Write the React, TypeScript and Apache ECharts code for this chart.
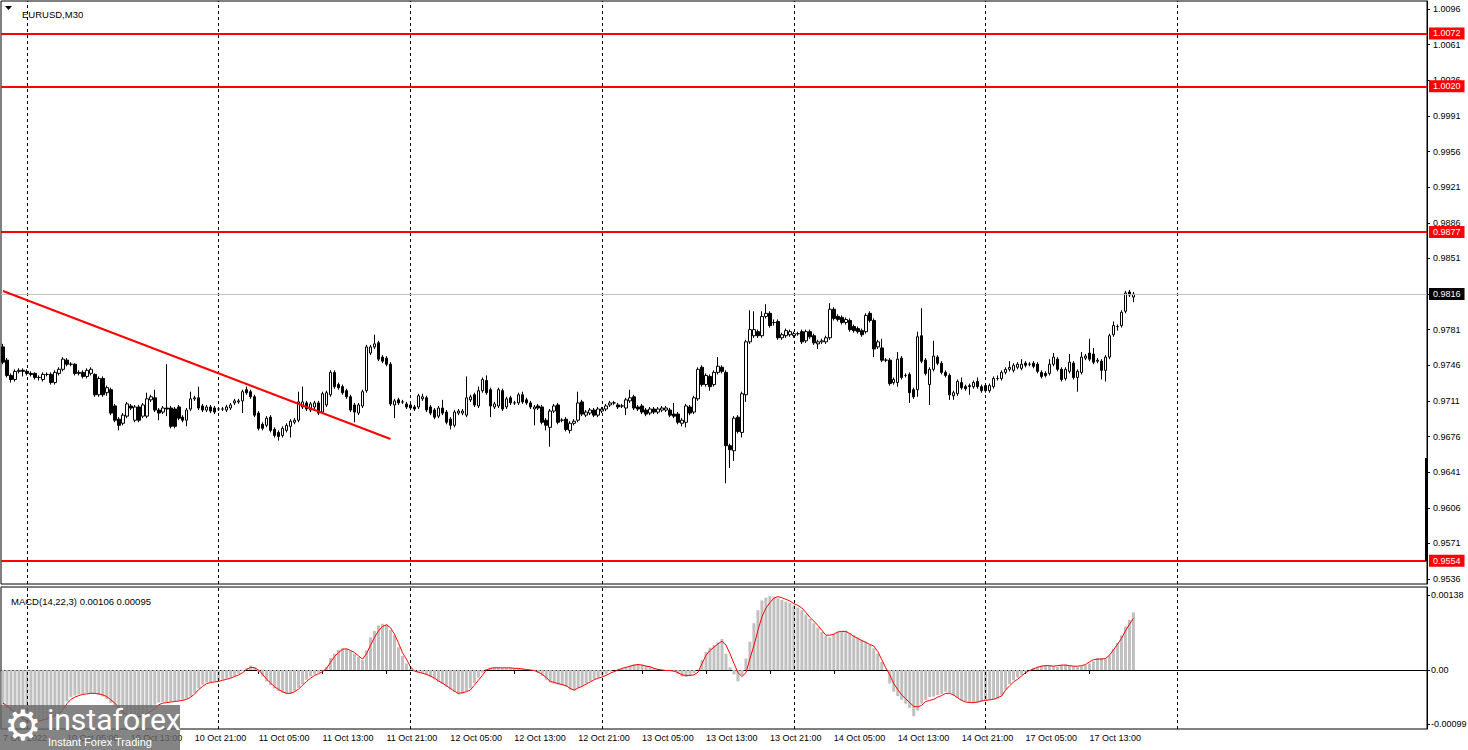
import React, { useEffect, useRef } from "react";
import * as echarts from "echarts";

const SYMBOL_TITLE = "EURUSD,M30";
const MACD_TITLE = "MACD(14,22,3) 0.00106 0.00095";
const START_UTC = Date.UTC(2022, 9, 7, 21, 0);
const SLOT_COUNT = 357;

// [open, close, low, high] in units of 0.0001
const CANDLES: number[][] = [
  [9764,9749,9747,9767],[9751,9736,9734,9753],[9736,9732,9729,9738],[9732,9740,9730,9742],[9740,9741,9738,9743],[9741,9740,9735,9743],[9740,9738,9736,9742],[9738,9737,9735,9740],[9738,9734,9732,9739],[9734,9734,9731,9736],
  [9732,9737,9730,9739],[9737,9737,9735,9739],[9737,9729,9727,9739],[9729,9739,9727,9741],[9738,9742,9736,9744],[9742,9752,9740,9754],[9751,9747,9745,9753],[9747,9747,9745,9749],[9747,9738,9736,9748],[9738,9739,9736,9741],
  [9739,9735,9733,9741],[9735,9741,9733,9743],[9738,9742,9736,9744],[9737,9717,9715,9738],[9717,9733,9715,9735],[9733,9717,9715,9735],[9719,9724,9716,9726],[9722,9699,9697,9724],[9706,9692,9690,9708],[9693,9687,9682,9695],
  [9689,9697,9687,9699],[9696,9708,9694,9710],[9706,9704,9702,9708],[9692,9705,9690,9707],[9705,9692,9690,9707],[9696,9707,9694,9709],[9696,9713,9694,9719],[9712,9715,9710,9717],[9714,9702,9700,9722],[9702,9699,9692,9704],
  [9700,9704,9698,9706],[9704,9703,9696,9747],[9704,9686,9684,9706],[9703,9686,9684,9705],[9705,9694,9692,9707],[9695,9692,9690,9697],[9692,9702,9686,9704],[9703,9713,9701,9720],[9713,9714,9711,9716],[9714,9704,9702,9725],
  [9706,9702,9700,9708],[9702,9705,9700,9707],[9705,9701,9699,9707],[9704,9700,9698,9706],[9703,9703,9701,9705],[9703,9703,9701,9705],[9702,9705,9700,9707],[9704,9707,9702,9709],[9709,9711,9707,9713],[9710,9711,9708,9713],
  [9711,9720,9699,9722],[9722,9719,9717,9725],[9720,9715,9713,9722],[9715,9697,9695,9717],[9699,9684,9682,9701],[9688,9684,9682,9690],[9687,9694,9685,9696],[9695,9682,9680,9697],[9683,9677,9675,9685],[9680,9676,9672,9682],
  [9677,9684,9675,9686],[9682,9687,9680,9689],[9686,9691,9675,9693],[9690,9692,9688,9694],[9692,9710,9690,9720],[9705,9710,9703,9725],[9709,9703,9701,9711],[9702,9708,9700,9710],[9705,9709,9703,9711],[9709,9699,9697,9711],
  [9700,9718,9698,9720],[9707,9719,9705,9721],[9717,9739,9715,9741],[9739,9725,9723,9741],[9727,9724,9722,9729],[9725,9719,9717,9727],[9721,9715,9713,9723],[9715,9702,9700,9717],[9707,9700,9690,9709],[9699,9707,9697,9709],
  [9706,9720,9704,9722],[9721,9764,9719,9766],[9758,9764,9756,9766],[9764,9767,9762,9776],[9768,9752,9750,9770],[9754,9750,9748,9756],[9753,9747,9745,9755],[9747,9708,9706,9749],[9707,9711,9694,9713],[9712,9709,9707,9714],
  [9710,9710,9708,9712],[9708,9705,9703,9710],[9707,9704,9702,9709],[9705,9703,9701,9707],[9705,9716,9703,9718],[9713,9715,9711,9718],[9714,9702,9700,9716],[9705,9699,9697,9707],[9702,9695,9693,9704],[9696,9704,9694,9706],
  [9704,9699,9697,9712],[9700,9690,9688,9702],[9693,9687,9683,9695],[9687,9700,9685,9702],[9699,9701,9697,9703],[9699,9701,9697,9703],[9697,9714,9695,9735],[9712,9715,9710,9717],[9717,9707,9705,9719],[9706,9721,9704,9725],
  [9721,9732,9719,9734],[9731,9719,9717,9736],[9722,9706,9695,9724],[9705,9708,9703,9710],[9706,9722,9704,9724],[9721,9703,9701,9723],[9705,9713,9703,9715],[9714,9709,9707,9716],[9709,9709,9707,9711],[9709,9717,9707,9719],
  [9717,9710,9708,9720],[9712,9709,9707,9714],[9709,9705,9703,9711],[9703,9705,9687,9707],[9706,9704,9702,9708],[9705,9690,9688,9707],[9692,9687,9682,9694],[9685,9701,9666,9703],[9701,9706,9699,9708],[9707,9690,9688,9709],
  [9692,9692,9690,9694],[9693,9683,9681,9695],[9682,9689,9679,9691],[9689,9691,9687,9693],[9692,9709,9690,9720],[9710,9698,9696,9712],[9697,9700,9695,9702],[9699,9702,9697,9704],[9702,9697,9695,9704],[9697,9703,9695,9705],
  [9701,9703,9699,9705],[9703,9706,9701,9708],[9707,9709,9705,9711],[9709,9709,9707,9711],[9707,9705,9703,9709],[9706,9706,9704,9708],[9704,9712,9697,9714],[9711,9714,9709,9722],[9715,9704,9702,9717],[9705,9703,9701,9707],
  [9706,9700,9698,9708],[9702,9698,9696,9704],[9699,9703,9697,9705],[9703,9700,9698,9705],[9700,9703,9698,9705],[9702,9704,9700,9706],[9702,9704,9700,9706],[9702,9697,9695,9704],[9698,9696,9694,9709],[9698,9690,9688,9700],
  [9689,9692,9686,9694],[9690,9706,9685,9708],[9705,9699,9697,9707],[9700,9714,9698,9716],[9713,9742,9711,9744],[9744,9727,9725,9746],[9727,9736,9725,9738],[9735,9725,9721,9737],[9727,9739,9725,9741],[9739,9745,9737,9754],
  [9744,9740,9738,9746],[9739,9667,9630,9741],[9667,9663,9645,9669],[9662,9694,9652,9696],[9695,9681,9679,9697],[9680,9718,9675,9720],[9717,9769,9710,9771],[9769,9781,9767,9800],[9775,9781,9773,9799],[9779,9775,9773,9781],
  [9775,9794,9773,9799],[9794,9797,9792,9806],[9797,9785,9783,9799],[9788,9788,9785,9791],[9789,9773,9771,9791],[9773,9776,9771,9778],[9775,9780,9773,9782],[9776,9779,9774,9781],[9775,9777,9773,9779],[9777,9777,9775,9779],
  [9779,9769,9767,9781],[9770,9779,9768,9781],[9779,9774,9772,9781],[9775,9768,9766,9777],[9767,9769,9762,9771],[9769,9770,9767,9772],[9769,9773,9767,9775],[9773,9801,9771,9807],[9801,9792,9790,9803],[9794,9791,9789,9796],
  [9793,9788,9786,9795],[9788,9791,9786,9793],[9790,9781,9779,9792],[9784,9780,9778,9786],[9782,9779,9777,9784],[9780,9776,9774,9782],[9779,9795,9777,9797],[9797,9790,9788,9799],[9790,9762,9754,9792],[9764,9769,9762,9771],
  [9763,9751,9749,9772],[9751,9751,9749,9753],[9751,9728,9726,9753],[9729,9732,9727,9734],[9729,9752,9725,9759],[9753,9734,9732,9755],[9736,9736,9734,9738],[9737,9719,9709,9739],[9722,9715,9713,9724],[9722,9774,9715,9779],
  [9775,9750,9748,9802],[9751,9738,9736,9753],[9727,9742,9707,9744],[9742,9755,9740,9770],[9754,9748,9746,9756],[9748,9739,9737,9750],[9739,9736,9734,9741],[9736,9717,9712,9738],[9716,9719,9712,9721],[9718,9730,9716,9732],
  [9729,9724,9722,9734],[9725,9723,9721,9727],[9725,9726,9717,9728],[9725,9729,9723,9731],[9730,9725,9723,9734],[9725,9721,9719,9727],[9726,9721,9719,9728],[9721,9726,9719,9728],[9725,9733,9723,9735],[9733,9733,9731,9736],
  [9733,9739,9731,9741],[9739,9742,9737,9744],[9742,9744,9740,9750],[9741,9746,9739,9748],[9744,9747,9742,9749],[9743,9747,9741,9752],[9748,9746,9744,9750],[9747,9747,9745,9749],[9748,9745,9743,9750],[9747,9740,9738,9749],
  [9739,9735,9733,9741],[9738,9736,9734,9740],[9738,9747,9736,9752],[9747,9754,9745,9758],[9752,9742,9740,9754],[9742,9732,9730,9744],[9733,9742,9731,9744],[9740,9749,9738,9757],[9748,9734,9732,9750],[9734,9740,9720,9742],
  [9739,9754,9737,9759],[9753,9755,9751,9757],[9758,9752,9750,9772],[9757,9749,9747,9763],[9750,9751,9748,9753],[9750,9741,9732,9752],[9741,9754,9730,9756],[9754,9775,9752,9777],[9776,9785,9774,9789],[9784,9784,9780,9786],
  [9785,9798,9783,9800],[9799,9817,9797,9819],[9818,9815,9813,9820],[9813,9816,9808,9818],
];

// MACD main line (histogram), units of 0.00001
const MACD_MAIN: number[] = [
  -64,-70,-76,-82,-87,-92,-95,-97,-96,-95,
  -93,-91,-88,-85,-80,-72,-58,-50,-47,-45,
  -44,-43,-43,-44,-46,-49,-54,-61,-68,-77,
  -84,-87,-88,-87,-85,-82,-77,-71,-64,-60,
  -59,-59,-58,-57,-56,-55,-53,-49,-42,-34,
  -27,-23,-22,-21,-20,-18,-16,-14,-11,-7,
  -2,4,8,5,-3,-12,-21,-28,-34,-39,
  -42,-44,-43,-39,-33,-26,-18,-12,-8,-5,
  -1,6,22,30,37,40,39,35,30,24,
  18,36,60,72,82,85,84,74,64,42,
  26,12,2,-3,-5,-6,-9,-13,-17,-22,
  -26,-31,-36,-40,-45,-43,-39,-34,-24,-14,
  -5,2,4,5,5,4,4,4,3,3,
  2,1,0,-2,-6,-11,-18,-23,-25,-27,
  -28,-31,-36,-38,-33,-29,-25,-21,-17,-14,
  -11,-8,-3,0,2,3,5,8,10,11,
  10,8,6,4,2,0,-1,-2,-4,-8,
  -12,-13,-10,-6,0,18,33,41,46,51,
  57,30,5,-8,-21,-9,21,52,86,110,
  128,133,136,135,132,129,126,123,119,115,
  110,102,94,86,78,70,63,60,66,70,
  72,72,68,64,60,56,52,47,40,30,
  15,0,-25,-40,-48,-55,-62,-70,-85,-75,
  -62,-55,-50,-49,-46,-44,-40,-42,-47,-52,
  -56,-58,-60,-61,-60,-58,-56,-55,-54,-53,
  -47,-36,-26,-19,-14,-9,-3,0,4,6,
  8,9,9,7,6,9,10,9,7,6,
  7,9,12,16,22,22,21,27,39,50,
  64,80,92,106,
];

// MACD signal line, units of 0.00001
const MACD_SIGNAL: number[] = [
  -61,-66,-72,-78,-84,-89,-93,-95,-95,-94,
  -92,-90,-87,-84,-81,-74,-62,-54,-50,-47,
  -45,-44,-43,-43,-44,-46,-49,-55,-61,-69,
  -77,-83,-85,-86,-86,-84,-80,-76,-70,-64,
  -61,-60,-59,-58,-57,-56,-54,-50,-44,-36,
  -30,-25,-23,-22,-21,-19,-17,-15,-12,-9,
  -5,1,5,4,0,-8,-17,-24,-31,-36,
  -40,-43,-43,-40,-35,-28,-21,-15,-10,-7,
  -3,3,14,25,32,38,39,36,32,26,
  20,30,45,60,72,80,83,78,66,50,
  32,20,6,-2,-4,-6,-8,-11,-15,-20,
  -24,-29,-34,-39,-43,-42,-40,-37,-28,-19,
  -10,0,3,4,4,4,4,4,3,3,
  2,1,0,-1,-4,-8,-14,-21,-23,-25,
  -27,-29,-34,-37,-33,-30,-26,-22,-18,-15,
  -13,-10,-6,-3,0,3,5,7,9,10,
  9,7,6,3,1,0,-1,-1,-2,-5,
  -9,-10,-10,-9,-4,12,27,36,42,48,
  53,46,30,12,-5,-12,-5,21,45,73,
  98,114,124,132,135,133,130,127,122,119,
  114,106,97,90,82,73,64,64,66,70,
  71,71,67,62,58,54,51,47,44,34,
  19,4,-9,-25,-36,-46,-53,-60,-67,-68,
  -65,-58,-56,-54,-50,-47,-43,-43,-46,-51,
  -56,-59,-60,-60,-59,-57,-56,-55,-54,-51,
  -48,-37,-29,-22,-17,-11,-5,-1,2,5,
  7,8,8,7,8,9,9,8,7,7,
  8,10,15,19,20,20,21,27,37,47,
  58,72,84,95,
];

const LEVELS = [1.0072, 1.002, 0.9877, 0.9554];
const LAST_PRICE = 0.9816;
const TREND_START: [number, number] = [0, 0.9819];
const TREND_END: [number, number] = [97, 0.96735];

const PRICE_TICKS = [
  0.9536, 0.9571, 0.9606, 0.9641, 0.9676, 0.9711, 0.9746, 0.9781, 0.9816,
  0.9851, 0.9886, 0.9921, 0.9956, 0.9991, 1.0026, 1.0061, 1.0096,
];
const MACD_TICKS = [-0.00099, 0, 0.00138];
const DAY_BREAKS = [6, 54, 102, 150, 198, 246, 294];
const TIME_TICK_INDEX = [0, 16, 32, 48, 64, 80, 96, 112, 128, 144, 160, 176, 192, 208, 224, 240, 256, 272];
const TIME_TICK_TEXT = [
  "7 Oct 2022", "10 Oct 05:00", "10 Oct 13:00", "10 Oct 21:00", "11 Oct 05:00", "11 Oct 13:00",
  "11 Oct 21:00", "12 Oct 05:00", "12 Oct 13:00", "12 Oct 21:00", "13 Oct 05:00", "13 Oct 13:00",
  "13 Oct 21:00", "14 Oct 05:00", "14 Oct 13:00", "14 Oct 21:00", "17 Oct 05:00", "17 Oct 13:00",
];

const FONT = "'Liberation Sans', Arial, sans-serif";
const MONTHS = ["Jan", "Feb", "Mar", "Apr", "May", "Jun", "Jul", "Aug", "Sep", "Oct", "Nov", "Dec"];

function buildSlots(): string[] {
  const out: string[] = [];
  let t = START_UTC;
  while (out.length < SLOT_COUNT) {
    const d = new Date(t);
    const wd = d.getUTCDay();
    if (wd !== 0 && wd !== 6) {
      const hh = String(d.getUTCHours()).padStart(2, "0");
      const mm = String(d.getUTCMinutes()).padStart(2, "0");
      out.push(`${d.getUTCDate()} ${MONTHS[d.getUTCMonth()]} ${hh}:${mm}`);
    }
    t += 30 * 60 * 1000;
  }
  return out;
}

function makeDayLines() {
  return DAY_BREAKS.map((i) => ({
    xAxis: i,
    lineStyle: { color: "#000", type: [3, 3], width: 1 },
    label: { show: false },
  }));
}

export default function App() {
  const ref = useRef<HTMLDivElement>(null);
  useEffect(() => {
    const el = ref.current;
    if (!el) return;
    const chart = echarts.init(el, undefined, { renderer: "svg" });
    const slots = buildSlots();
    const candleData = CANDLES.map((c) => c.map((v) => v / 10000));
    const macd = MACD_MAIN.map((v) => v / 100000);
    const signal = MACD_SIGNAL.map((v) => v / 100000);
    const isTick = (i: number) => TIME_TICK_INDEX.indexOf(i) >= 0;

    const boxLabel = (bg: string) => ({
      show: true,
      position: "end",
      distance: 2,
      formatter: (p: any) => Number(p.value).toFixed(4),
      backgroundColor: bg,
      color: "#ffffff",
      padding: [2, 4, 1, 4],
      fontSize: 9,
      fontFamily: FONT,
    });

    const levelLines = LEVELS.map((v) => ({
      yAxis: v,
      lineStyle: { color: "#ff0000", width: 2, type: "solid" },
      label: boxLabel("#ff0000"),
    }));

    const option: any = {
      animation: false,
      backgroundColor: "#ffffff",
      title: [
        {
          text: SYMBOL_TITLE,
          left: 17,
          top: 4,
          textStyle: { fontSize: 9.5, fontWeight: "normal", color: "#000", fontFamily: FONT },
        },
        {
          text: MACD_TITLE,
          left: 6,
          top: 591,
          textStyle: { fontSize: 9.5, fontWeight: "normal", color: "#000", fontFamily: FONT },
        },
      ],
      grid: [
        {
          left: 1, top: 1, width: 1426, height: 583, show: true, borderColor: "#000", borderWidth: 1,
          backgroundColor: "#fff", containLabel: false, outerBoundsMode: "none",
        },
        {
          left: 1, top: 587, width: 1426, height: 142, show: true, borderColor: "#000", borderWidth: 1,
          backgroundColor: "#fff", containLabel: false, outerBoundsMode: "none",
        },
      ],
      xAxis: [
        {
          type: "category",
          gridIndex: 0,
          data: slots,
          boundaryGap: true,
          axisLine: { show: false },
          axisTick: { show: false },
          axisLabel: { show: false },
          splitLine: { show: false },
        },
        {
          type: "category",
          gridIndex: 1,
          data: slots,
          boundaryGap: true,
          axisLine: { show: true, lineStyle: { color: "#000", width: 1 } },
          axisTick: {
            show: true,
            interval: (i: number) => isTick(i),
            alignWithLabel: true,
            length: 4,
            lineStyle: { color: "#000" },
          },
          axisLabel: {
            show: true,
            interval: (i: number) => isTick(i),
            formatter: (_v: string, i: number) => {
              const k = TIME_TICK_INDEX.indexOf(i);
              return k >= 0 ? TIME_TICK_TEXT[k] : "";
            },
            align: "left",
            margin: 4,
            fontSize: 9,
            color: "#000",
            fontFamily: FONT,
          },
          splitLine: { show: false },
        },
      ],
      yAxis: [
        {
          type: "value",
          gridIndex: 0,
          position: "right",
          min: 0.953109,
          max: 1.010386,
          scale: true,
          axisLine: { show: true, lineStyle: { color: "#000" } },
          axisTick: { show: true, length: 3, customValues: PRICE_TICKS, lineStyle: { color: "#000" } },
          axisLabel: {
            show: true,
            customValues: PRICE_TICKS,
            formatter: (v: number) => v.toFixed(4),
            margin: 6,
            fontSize: 9,
            color: "#000",
            fontFamily: FONT,
          },
          splitLine: { show: false },
        },
        {
          type: "value",
          gridIndex: 1,
          position: "right",
          min: -0.001086,
          max: 0.001527,
          axisLine: { show: true, lineStyle: { color: "#000" } },
          axisTick: { show: true, length: 3, customValues: MACD_TICKS, lineStyle: { color: "#000" } },
          axisLabel: {
            show: true,
            customValues: MACD_TICKS,
            formatter: (v: number) => (Math.abs(v) < 1e-9 ? "0.00" : v.toFixed(5)),
            margin: 4,
            fontSize: 9,
            color: "#000",
            fontFamily: FONT,
          },
          splitLine: { show: false },
        },
      ],
      series: [
        {
          type: "candlestick",
          xAxisIndex: 0,
          yAxisIndex: 0,
          data: candleData,
          barWidth: 3,
          silent: true,
          itemStyle: {
            color: "#ffffff",
            color0: "#000000",
            borderColor: "#000000",
            borderColor0: "#000000",
            borderWidth: 1,
          },
          markLine: {
            silent: true,
            symbol: ["none", "none"],
            precision: 5,
            animation: false,
            data: [
              ...makeDayLines(),
              ...levelLines,
              {
                yAxis: LAST_PRICE,
                lineStyle: { color: "#c0c0c0", width: 1, type: "solid" },
                label: boxLabel("#000000"),
              },
              [
                { coord: TREND_START, lineStyle: { color: "#ff0000", width: 2, type: "solid" }, label: { show: false } },
                { coord: TREND_END },
              ],
            ],
          },
        },
        {
          type: "bar",
          xAxisIndex: 1,
          yAxisIndex: 1,
          data: macd,
          barWidth: 3,
          silent: true,
          itemStyle: { color: "#c0c0c0" },
        },
        {
          type: "line",
          xAxisIndex: 1,
          yAxisIndex: 1,
          data: signal,
          showSymbol: false,
          symbol: "none",
          silent: true,
          lineStyle: { color: "#ff0000", width: 1 },
          markLine: {
            silent: true,
            symbol: ["none", "none"],
            precision: 5,
            animation: false,
            data: makeDayLines(),
          },
        },
      ],
      graphic: [
        { type: "polygon", z: 50, shape: { points: [[5, 6], [12, 6], [8.5, 10]] }, style: { fill: "#000" } },
        { type: "rect", z: 50, shape: { x: 1425, y: 458, width: 3, height: 103 }, style: { fill: "#000" } },
        { type: "rect", z: 100, shape: { x: 0, y: 705, width: 180, height: 45 }, style: { fill: "rgba(105,105,105,0.82)" } },
        {
          type: "text",
          z: 101,
          x: 4,
          y: 704,
          style: { text: "\u2699", fill: "#ffffff", fontSize: 42, fontFamily: "'DejaVu Sans', sans-serif" },
        },
        {
          type: "text",
          z: 101,
          x: 47,
          y: 704,
          style: { text: "instaforex", fill: "#ffffff", fontSize: 30, fontFamily: "Roboto, 'Open Sans', sans-serif" },
        },
        {
          type: "text",
          z: 101,
          x: 48,
          y: 736,
          style: { text: "Instant Forex Trading", fill: "#ffffff", fontSize: 11, fontFamily: FONT },
        },
      ],
    };

    chart.setOption(option);
    return () => chart.dispose();
  }, []);

  return (
    <div
      ref={ref}
      style={{ position: "fixed", left: 0, top: 0, width: 1468, height: 750, background: "#fff" }}
    />
  );
}
